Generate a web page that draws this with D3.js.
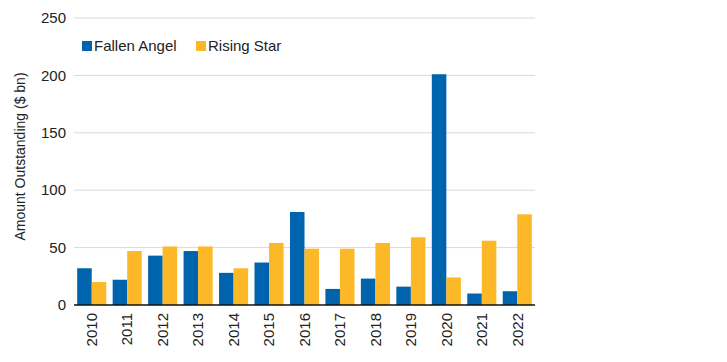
<!DOCTYPE html>
<html>
<head>
<meta charset="utf-8">
<script src="https://cdn.jsdelivr.net/npm/d3@7"></script>
<style>
  body { margin: 0; background: #fff; }
  text { font-family: "Liberation Sans", Arial, sans-serif; fill: #222; }
</style>
</head>
<body>
<div id="chart"></div>
<script>
var years = ['2010','2011','2012','2013','2014','2015','2016','2017','2018','2019','2020','2021','2022'];
var fallenAngel = [32, 22, 43, 47, 28, 37, 81, 14, 23, 16, 201, 10, 12];
var risingStar = [20, 47, 51, 51, 32, 54, 49, 49, 54, 59, 24, 56, 79];
var yTicks = [0, 50, 100, 150, 200, 250];
var seriesNames = ['Fallen Angel', 'Rising Star'];

var width = 727, height = 362;
var margin = { top: 18, right: 192, bottom: 57, left: 74 };
var colors = ['#0063ad', '#fdb827'];

var svg = d3.select('#chart').append('svg')
    .attr('width', width)
    .attr('height', height);

var g = svg.append('g')
    .attr('transform', 'translate(' + margin.left + ',' + margin.top + ')');

var w = width - margin.left - margin.right;
var h = height - margin.top - margin.bottom;

var x = d3.scaleBand().domain(years).range([0, w]).paddingInner(0.18).paddingOuter(0.09);
var xs = d3.scaleBand().domain([0, 1]).range([0, x.bandwidth()]);
var y = d3.scaleLinear().domain([0, 250]).range([h, 0]);

// gridlines
g.selectAll('.grid')
    .data(yTicks.filter(function(d) { return d > 0; }))
    .enter().append('line')
    .attr('x1', 0).attr('x2', w)
    .attr('y1', function(d) { return y(d); })
    .attr('y2', function(d) { return y(d); })
    .attr('stroke', '#d9d9d9')
    .attr('stroke-width', 1);

// y tick labels
g.selectAll('.ytick')
    .data(yTicks)
    .enter().append('text')
    .attr('x', -8)
    .attr('y', function(d) { return y(d); })
    .attr('dy', '0.35em')
    .attr('text-anchor', 'end')
    .style('font-size', '15px')
    .text(function(d) { return d; });

// bars
var series = [fallenAngel, risingStar];
series.forEach(function(vals, si) {
    g.selectAll('.bar' + si)
        .data(vals)
        .enter().append('rect')
        .attr('x', function(d, i) { return x(years[i]) + xs(si); })
        .attr('width', xs.bandwidth())
        .attr('y', function(d) { return y(d); })
        .attr('height', function(d) { return h - y(d); })
        .attr('fill', colors[si]);
});

// baseline
g.append('line')
    .attr('x1', 0).attr('x2', w)
    .attr('y1', h).attr('y2', h)
    .attr('stroke', '#111')
    .attr('stroke-width', 1.5);

// x labels
g.selectAll('.xtick')
    .data(years)
    .enter().append('text')
    .attr('transform', function(d) {
        return 'translate(' + (x(d) + x.bandwidth() / 2) + ',' + (h + 8) + ') rotate(-90)';
    })
    .attr('dy', '0.35em')
    .attr('text-anchor', 'end')
    .style('font-size', '15px')
    .text(function(d) { return d; });

// y axis title
svg.append('text')
    .attr('transform', 'translate(20,' + (margin.top + h / 2 - 5) + ') rotate(-90)')
    .attr('dy', '0.35em')
    .attr('text-anchor', 'middle')
    .style('font-size', '14px')
    .text('Amount Outstanding ($ bn)');

// legend
var legendX = [82, 196];
var legend = svg.selectAll('.legend')
    .data(seriesNames)
    .enter().append('g')
    .attr('transform', function(d, i) { return 'translate(' + legendX[i] + ',41)'; });

legend.append('rect')
    .attr('width', 10).attr('height', 10)
    .attr('fill', function(d, i) { return colors[i]; });

legend.append('text')
    .attr('x', 12).attr('y', 5)
    .attr('dy', '0.35em')
    .style('font-size', '15px')
    .text(function(d) { return d; });
</script>
</body>
</html>
